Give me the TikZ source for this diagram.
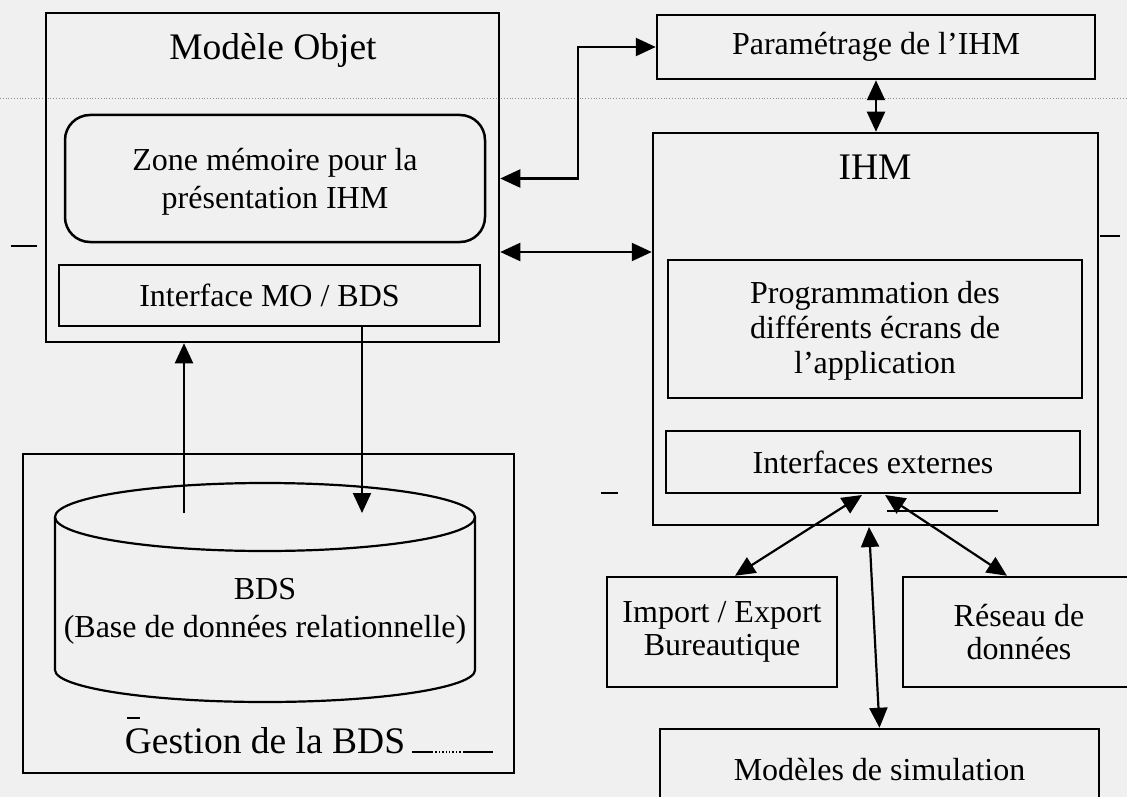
\documentclass[tikz,border=0pt]{standalone}
\usepackage{fontspec}
\setmainfont{Liberation Serif}
\usetikzlibrary{arrows.meta,calc}
\begin{document}
\begin{tikzpicture}[x=1pt,y=-1pt,
  frame/.style={draw, line width=2.5pt, inner sep=0pt},
  body/.style={font=\fontsize{32}{38}\selectfont, align=center},
  big/.style={font=\fontsize{37.5}{42}\selectfont, inner sep=0pt},
  biarrow/.style={line width=2.2pt, {Triangle[length=20pt,width=18pt]}-{Triangle[length=20pt,width=18pt]}},
  onearrow/.style={line width=2.2pt, -{Triangle[length=20pt,width=18pt]}},
  noise/.style={line width=1.4pt}
]
\fill[black!6] (0,0) rectangle (1127,797);
\useasboundingbox (0,0) rectangle (1127,797);
\clip (0,0) rectangle (1127,797);

% scan artefacts
\draw[black!45, dotted, line width=0.8pt] (0,98) -- (1127,98);
\draw[noise] (11,246) -- (37,246);
\draw[noise] (1100,236) -- (1120,236);
\draw[noise] (601,493) -- (618,493);
\draw[noise] (127,718) -- (140,718);
\draw[noise] (412,752) -- (432,752);
\draw[noise, dotted] (432,752) -- (462,752);
\draw[noise] (463,752) -- (493,752);

% Modele Objet
\node[frame, minimum width=453, minimum height=329] (mo) at (272.5,177.5) {};
\node[big] (motitle) at (273,50) {Modèle Objet};
\node[frame, rounded corners=25pt, minimum width=420, minimum height=127] (zone) at (275,178.5) {};
\node[body] (zonetxt) at (275,182) {Zone mémoire pour la\\présentation IHM};
\node[frame, minimum width=421, minimum height=61, body] (itf) at (269.5,295.5) {Interface MO / BDS};

% Gestion de la BDS
\node[frame, minimum width=491, minimum height=319] (gest) at (268.5,613.5) {};
\node[big] (gesttitle) at (265,741) {Gestion de la BDS};
\draw[line width=2.2pt] (265,517) ellipse [x radius=210, y radius=34];
\draw[line width=2.2pt] (55,517) -- (55,670) arc[start angle=180, end angle=0, x radius=210, y radius=32] -- (475,517);
\node[body] (bds) at (265,611) {BDS\\(Base de données relationnelle)};
\coordinate (bdsL) at (184,513);
\coordinate (bdsR) at (362,513);
\draw[onearrow] (bdsL) -- (bdsL |- mo.south);
\draw[onearrow] (bdsR |- itf.south) -- (bdsR);

% IHM side
\node[frame, minimum width=438, minimum height=64, body] (param) at (876,47) {Paramétrage de l’IHM};
\node[frame, minimum width=445, minimum height=392] (ihm) at (875.5,329) {};
\node[big] (ihmtitle) at (875,167) {IHM};
\node[frame, minimum width=414, minimum height=138] (prog) at (875,329) {};
\node[body, font=\fontsize{32}{35}\selectfont] (progtxt) at (875,331) {Programmation des\\différents écrans de\\l’application};
\node[frame, minimum width=414, minimum height=62, body] (ext) at (873,462) {Interfaces externes};
\node[frame, minimum width=230, minimum height=110, body, font=\fontsize{32}{33}\selectfont] (imp) at (722,632) {Import / Export\\Bureautique};
\node[frame, minimum width=232, minimum height=110, body, font=\fontsize{32}{33}\selectfont] (res) at (1019,632) {Réseau de\\données};
\node[frame, minimum width=439, minimum height=82, body] (sim) at (879.5,770) {Modèles de simulation};

% connectors
\coordinate (elbow) at (578,47);
\draw[biarrow] (param.west) -- (elbow) |- (mo.east |- zone.center);
\coordinate (h252) at (576,252);
\draw[biarrow] (mo.east |- h252) -- (ihm.west |- h252);
\draw[biarrow] (param.south) -- (param.south |- ihm.north);
\coordinate (extL) at (862,495);
\coordinate (extR) at (885,495);
\draw[biarrow] ($(imp.north)+(13,0)$) -- (extL);
\draw[biarrow] ($(res.north)+(-12,0)$) -- (extR);
\coordinate (vtop) at (869,527);
\draw[biarrow] (vtop) -- (sim.north);
\draw[line width=2.2pt] ($(extR)+(2,16)$) -- ++(111,0);
\end{tikzpicture}
\end{document}
